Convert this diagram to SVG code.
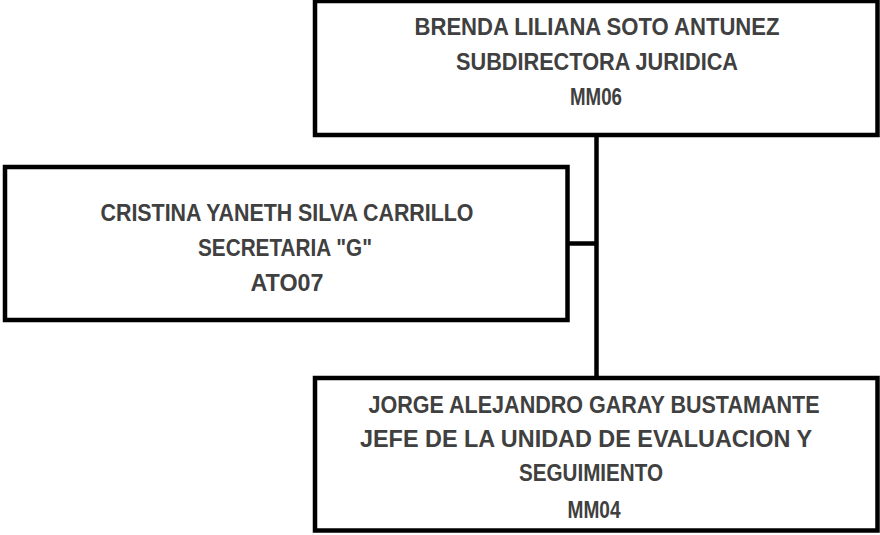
<svg xmlns="http://www.w3.org/2000/svg" width="880" height="535" viewBox="0 0 880 535">
<style>
.box{fill:#fff;stroke:#000;stroke-width:4.5}
.t{font-family:"Liberation Sans",Arial,sans-serif;font-weight:bold;font-size:23px;fill:#404040;text-anchor:middle}
.c{stroke:#000;stroke-width:4.5;fill:none}
</style>
<rect width="880" height="535" fill="#fff"/>
<g id="connectors">
<line class="c" x1="596.5" y1="135" x2="596.5" y2="378"/>
<line class="c" x1="567.5" y1="243.5" x2="596.5" y2="243.5"/>
</g>
<g id="n1">
<rect class="box" x="315" y="1" width="562.5" height="134"/>
<text class="t" x="597" y="35" textLength="365" lengthAdjust="spacingAndGlyphs">BRENDA LILIANA SOTO ANTUNEZ</text>
<text class="t" x="597" y="70" textLength="282" lengthAdjust="spacingAndGlyphs">SUBDIRECTORA JURIDICA</text>
<text class="t" x="596" y="105" textLength="52" lengthAdjust="spacingAndGlyphs">MM06</text>
</g>
<g id="n2">
<rect class="box" x="5" y="167" width="562.5" height="153"/>
<text class="t" x="287" y="221" textLength="373" lengthAdjust="spacingAndGlyphs">CRISTINA YANETH SILVA CARRILLO</text>
<text class="t" x="285" y="256" textLength="174" lengthAdjust="spacingAndGlyphs">SECRETARIA "G"</text>
<text class="t" x="287" y="291" textLength="73" lengthAdjust="spacingAndGlyphs">ATO07</text>
</g>
<g id="n3">
<rect class="box" x="315" y="378" width="562.5" height="152.5"/>
<text class="t" x="594" y="413" textLength="451" lengthAdjust="spacingAndGlyphs">JORGE ALEJANDRO GARAY BUSTAMANTE</text>
<text class="t" x="586" y="447" textLength="452" lengthAdjust="spacingAndGlyphs">JEFE DE LA UNIDAD DE EVALUACION Y</text>
<text class="t" x="591" y="481" textLength="144" lengthAdjust="spacingAndGlyphs">SEGUIMIENTO</text>
<text class="t" x="594" y="518" textLength="53" lengthAdjust="spacingAndGlyphs">MM04</text>
</g>
</svg>
